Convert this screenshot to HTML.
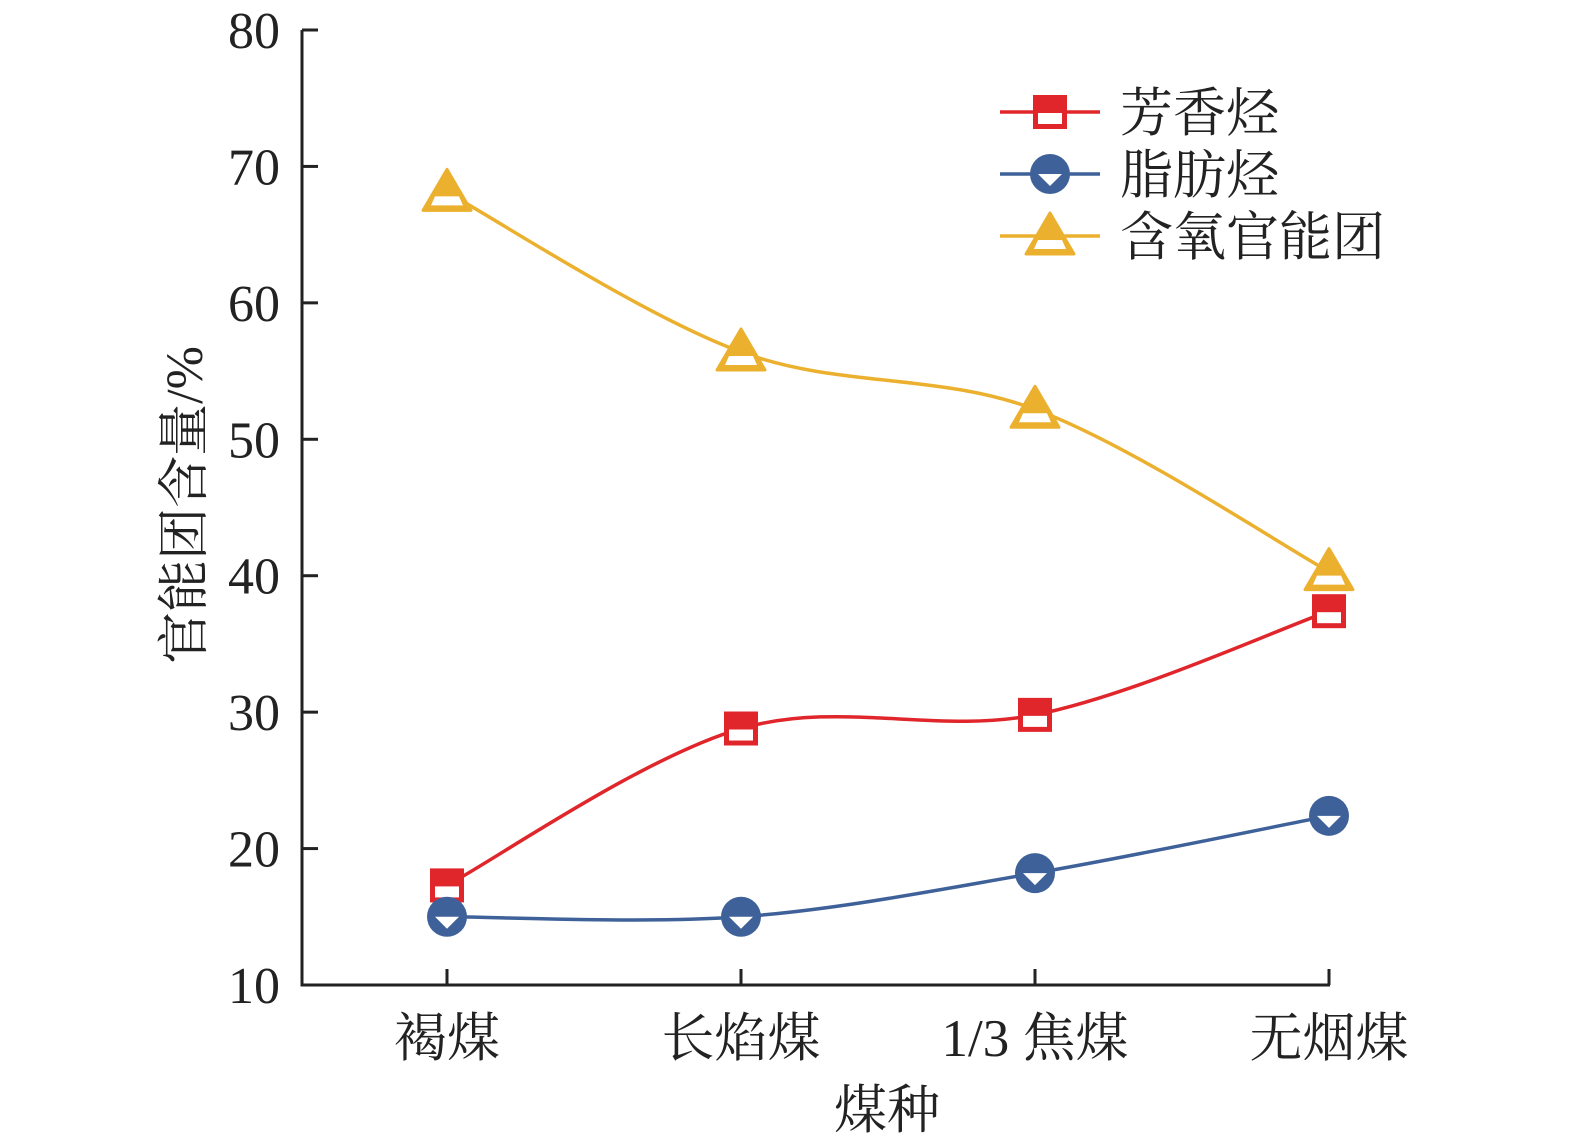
<!DOCTYPE html>
<html><head><meta charset="utf-8"><style>
body{margin:0;background:#fff}
svg text{font-family:"Liberation Serif","Noto Serif CJK SC",serif;fill:#222}
</style></head><body>
<svg id="c" width="1575" height="1140" xmlns="http://www.w3.org/2000/svg"></svg>
<script>
const categories=["褐煤","长焰煤","1/3 焦煤","无烟煤"];
const aromatic=[17.3,28.8,29.8,37.4];
const aliphatic=[15.0,15.0,18.2,22.4];
const oxygen=[68.1,56.4,52.2,40.3];
const yTicks=[10,20,30,40,50,60,70,80];
const seriesNames=["芳香烃","脂肪烃","含氧官能团"];
const colors=["#e0262b","#3f6199","#ecb02f"];
const NS="http://www.w3.org/2000/svg";
const svg=document.getElementById('c');
const X0=302,Y0=985,Ytop=30;
const y=v=>Y0-(v-10)/70*(Y0-Ytop);
const x=i=>447+i*294;
function el(t,a,p){const e=document.createElementNS(NS,t);for(const k in a)e.setAttribute(k,a[k]);(p||svg).appendChild(e);return e;}
let e;
e=el('path',{d:`M${X0} ${Ytop}V${Y0}H1330`,stroke:'#222','stroke-width':3,fill:'none'});


yTicks.forEach(v=>{
 e=el('line',{x1:X0,x2:X0+16,y1:y(v),y2:y(v),stroke:'#222','stroke-width':3});
 
 
 e=el('text',{x:280,y:y(v)+18,'text-anchor':'end','font-size':52});e.textContent=v;
 
 
});
categories.forEach((c,i)=>{
 e=el('line',{x1:x(i),x2:x(i),y1:Y0,y2:Y0-16,stroke:'#222','stroke-width':3});
 
 
 e=el('text',{x:x(i),y:1056,'text-anchor':'middle','font-size':53});e.textContent=c;
 
 
});
e=el('text',{x:887,y:1128,'text-anchor':'middle','font-size':53});e.textContent='煤种';


e=el('text',{x:0,y:0,'text-anchor':'middle','font-size':52,transform:'translate(202,505) rotate(-90)'});e.textContent='官能团含量/%';


function curve(pts){let d=`M${pts[0][0]} ${pts[0][1]}`;for(let i=0;i<pts.length-1;i++){const p0=pts[Math.max(i-1,0)],p1=pts[i],p2=pts[i+1],p3=pts[Math.min(i+2,pts.length-1)];const t=6;d+=`C${p1[0]+(p2[0]-p0[0])/t} ${p1[1]+(p2[1]-p0[1])/t} ${p2[0]-(p3[0]-p1[0])/t} ${p2[1]-(p3[1]-p1[1])/t} ${p2[0]} ${p2[1]}`;}return d;}
function marker(k,cx,cy,g){const c=colors[k];
 if(k===0){el('rect',{x:cx-17,y:cy-17,width:34,height:34,fill:c},g);el('rect',{x:cx-12,y:cy+1,width:24,height:11,fill:'#fff'},g);}
 else if(k===1){el('circle',{cx:cx,cy:cy,r:20,fill:c},g);el('path',{d:`M${cx-12} ${cy} H${cx+12} L${cx} ${cy+12}Z`,fill:'#fff'},g);}
 else {el('path',{d:`M${cx} ${cy-23}L${cx+24} ${cy+18}H${cx-24}Z`,fill:c,stroke:c,'stroke-width':3,'stroke-linejoin':'round'},g);el('path',{d:`M${cx-12} ${cy+4}H${cx+12}L${cx+16} ${cy+13}H${cx-16}Z`,fill:'#fff'},g);}
}
[aromatic,aliphatic,oxygen].forEach((s,k)=>{
 const g=el('g',{});
 
 
 const pts=s.map((v,i)=>[x(i),y(v)]);
 el('path',{d:curve(pts),stroke:colors[k],'stroke-width':3.5,fill:'none'},g);
 pts.forEach(p=>marker(k,p[0],p[1],g));
 const lg=el('g',{});
 
 
 const ly=112+k*62;
 el('line',{x1:1000,x2:1100,y1:ly,y2:ly,stroke:colors[k],'stroke-width':3.5},lg);
 marker(k,1050,ly,lg);
 const t=el('text',{x:1120,y:ly+19,'font-size':53},lg);t.textContent=seriesNames[k];
});
</script>
</body></html>
